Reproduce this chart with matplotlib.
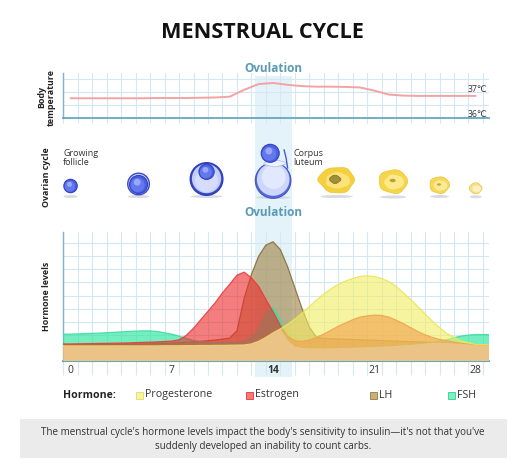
import numpy as np
import matplotlib
matplotlib.use('Agg')
import matplotlib.pyplot as plt
from matplotlib.patches import Rectangle, Ellipse, PathPatch
from matplotlib.path import Path
import matplotlib.transforms as mtrans

plt.rcParams['font.family'] = ['Open Sans', 'DejaVu Sans']

# ---------------- data ----------------
temp_days = list(range(0, 29))
temp_c = [36.76, 36.76, 36.76, 36.76, 36.76, 36.76, 36.77, 36.77, 36.77,
          36.78, 36.79, 36.82, 37.08, 37.30, 37.34, 37.27, 37.22, 37.20,
          37.20, 37.19, 37.17, 37.05, 36.90, 36.86, 36.85, 36.85, 36.85,
          36.85, 36.85]

hormone_days = np.arange(0, 28.5, 0.5)
lh = [1.20, 1.21, 1.22, 1.23, 1.24, 1.25, 1.26, 1.27, 1.28, 1.29, 1.30,
      1.31, 1.33, 1.35, 1.37, 1.40, 1.43, 1.46, 1.50, 1.55, 1.60, 1.67,
      1.75, 2.30, 4.80, 6.60, 8.00, 8.85, 9.10, 8.50, 7.20, 5.60, 4.00,
      2.60, 1.80, 1.72,
      1.70, 1.68, 1.66, 1.64, 1.62, 1.60, 1.58, 1.56, 1.54, 1.52, 1.50,
      1.48, 1.46, 1.44, 1.42, 1.40, 1.37, 1.34, 1.31, 1.28, 1.25]
estrogen = [1.30, 1.31, 1.32, 1.33, 1.34, 1.35, 1.36, 1.37, 1.38, 1.40,
            1.42, 1.44, 1.46, 1.49, 1.52, 1.62, 1.95, 2.50, 3.15, 3.80,
            4.45, 5.20, 5.85, 6.55, 6.78, 6.35, 5.70, 4.70, 3.75, 2.70,
            1.90, 1.55, 1.50, 1.60, 1.80, 2.05, 2.35, 2.65, 2.90, 3.15,
            3.35, 3.45, 3.50, 3.48, 3.35, 3.12, 2.85, 2.55, 2.25, 2.00,
            1.80, 1.65, 1.55, 1.45, 1.35, 1.27, 1.20]
progesterone = [1.15, 1.15, 1.15, 1.15, 1.15, 1.15, 1.15, 1.15, 1.15, 1.15,
                1.15, 1.15, 1.15, 1.16, 1.16, 1.16, 1.17, 1.17, 1.18, 1.18,
                1.19, 1.19, 1.20, 1.21, 1.22, 1.30, 1.50, 1.80, 2.15, 2.45,
                2.80, 3.20, 3.65, 4.15, 4.65, 5.10, 5.50, 5.85, 6.10, 6.30,
                6.45, 6.50, 6.45, 6.30, 6.05, 5.70, 5.20, 4.70, 4.15, 3.60,
                3.05, 2.55, 2.10, 1.80, 1.55, 1.40, 1.25]
fsh = [2.05, 2.07, 2.09, 2.11, 2.13, 2.16, 2.19, 2.22, 2.25, 2.28, 2.30,
       2.30, 2.25, 2.15, 2.05, 1.90, 1.72, 1.57, 1.47, 1.42, 1.40, 1.40,
       1.40, 1.42, 1.50, 1.80, 2.40, 3.70, 4.10, 3.10, 1.60, 1.10, 1.00,
       0.98, 0.97, 0.97, 0.98, 0.99, 1.00, 1.02, 1.04, 1.06, 1.08, 1.10,
       1.13, 1.16, 1.20, 1.24, 1.28, 1.33, 1.40, 1.50, 1.62, 1.78, 1.90,
       1.98, 2.02]

tick_days = [0, 7, 14, 21, 28]
tick_labels = ['0', '7', '14', '21', '28']
ovulation_window = (12.75, 15.3)

follicle_days = [0.0, 4.7, 9.4, 14.0]
luteum_days = [18.4, 22.3, 25.5, 28.0]

legend_names = ['Progesterone', 'Estrogen', 'LH', 'FSH']
legend_face = ['#f8f5a0', '#f57b7b', '#c8b180', '#7ff0c4']
legend_edge = ['#e6e070', '#e84848', '#a08850', '#40d8a0']

caption = ("The menstrual cycle's hormone levels impact the body's sensitivity to insulin\u2014it's not that you've\n"
           "suddenly developed an inability to count carbs.")

# ---------------- figure ----------------
W, H = 528, 470
fig = plt.figure(figsize=(W / 100, H / 100), dpi=100)
fig.patch.set_facecolor('white')

GRID = '#d3e8f3'
SPINE = '#7fb3c9'
TXT = '#333333'
XLIM = (-0.5, 28.92)


def px_axes(left, top, right, bottom):
    return fig.add_axes([left / W, 1 - bottom / H, (right - left) / W, (bottom - top) / H])


def fx(px):
    return px / W


def fy(py):
    return 1 - py / H


ax_t = px_axes(63.3, 72.7, 489, 118.3)
ax_o = px_axes(63.3, 135, 489, 205)
ax_h = px_axes(63.3, 232, 489, 361)
PXD = (489 - 63.3) / (XLIM[1] - XLIM[0])  # pixels per day
kx = 1.0 / PXD

for ax in (ax_t, ax_o, ax_h):
    ax.set_xlim(*XLIM)
    ax.patch.set_alpha(0)

gl = np.arange(-0.5, 29.0, 1.0)

# ---- ovulation band ----
band_tr = mtrans.blended_transform_factory(ax_h.transData, fig.transFigure)
band = Rectangle((ovulation_window[0], fy(377)), ovulation_window[1] - ovulation_window[0],
                 (377 - 76) / H, transform=band_tr, facecolor='#e4f3fa', edgecolor='none', zorder=-5)
fig.add_artist(band)

# ---- temperature panel ----
ax_t.set_ylim(36.0, 37.73)
ax_t.set_xticks(tick_days)
ax_t.set_xticklabels([])
ax_t.set_xticks(gl, minor=True)
ax_t.set_yticks([36.5, 37.0, 37.5])
ax_t.set_yticklabels([])
ax_t.tick_params(axis='both', which='major', length=0)
ax_t.tick_params(axis='x', which='minor', length=3.5, color=GRID, width=0.8)
ax_t.grid(True, which='minor', axis='x', color=GRID, lw=0.8)
ax_t.grid(True, which='major', axis='y', color=GRID, lw=0.8)
for s in ('top', 'right'):
    ax_t.spines[s].set_visible(False)
ax_t.spines['left'].set_color(SPINE)
ax_t.spines['left'].set_linewidth(1.0)
ax_t.spines['bottom'].set_color('#68a6bf')
ax_t.spines['bottom'].set_linewidth(1.3)
ax_t.plot(temp_days, temp_c, color='#f2a3a3', lw=1.4, solid_capstyle='round', zorder=3)
ax_t.text(28.8, 37.11, '37\u2103', ha='right', va='center', fontsize=6.3, color=TXT)
ax_t.text(28.8, 36.13, '36\u2103', ha='right', va='center', fontsize=6.3, color=TXT)

# ---- ovarian cycle panel ----
ax_o.set_ylim(205, 135)
ax_o.axis('off')


def circ(cx, cy, r, **kw):
    return Ellipse((cx, cy), 2 * r * kx, 2 * r, **kw)


def shadow(cx, cy, w):
    ax_o.add_patch(Ellipse((cx, cy), w * kx, 3, facecolor='#c9cbd6', edgecolor='none', alpha=0.7, zorder=1))


def sphere(cx, cy, r, z=3):
    ax_o.add_patch(circ(cx, cy, r, facecolor='#4a5fe0', edgecolor='#3242c0', lw=0.8, zorder=z))
    ax_o.add_patch(circ(cx - 0.1 * r * kx, cy + 0.05 * r, r * 0.78, facecolor='#6478ee', edgecolor='none', zorder=z + 0.1))
    ax_o.add_patch(circ(cx - 0.15 * r * kx, cy - 0.25 * r, r * 0.38, facecolor='#a7b4fa', edgecolor='none', alpha=0.8, zorder=z + 0.2))


def blob(cx, cy, w, h, factors, **kw):
    n = len(factors)
    ang = np.linspace(0, 2 * np.pi, n, endpoint=False)
    pts = [(cx + f * w / 2 * np.cos(a) * kx, cy + f * h / 2 * np.sin(a)) for f, a in zip(factors, ang)]
    mids = [((pts[i][0] + pts[(i + 1) % n][0]) / 2, (pts[i][1] + pts[(i + 1) % n][1]) / 2) for i in range(n)]
    verts = [mids[-1]]
    codes = [Path.MOVETO]
    for i in range(n):
        verts += [pts[i], mids[i]]
        codes += [Path.CURVE3, Path.CURVE3]
    verts.append(mids[-1])
    codes.append(Path.CLOSEPOLY)
    return PathPatch(Path(verts, codes), **kw)


# follicle 1
d = follicle_days[0]
shadow(d, 196.5, 14)
sphere(d, 186, 6.7)
# follicle 2
d = follicle_days[1]
shadow(d, 196.5, 22)
ax_o.add_patch(circ(d, 184, 10.8, facecolor='#c9d1fa', edgecolor='#3a4acb', lw=1.0, zorder=2))
sphere(d, 184.5, 9.0)
# follicle 3
d = follicle_days[2]
shadow(d, 196.5, 32)
ax_o.add_patch(circ(d, 179, 16.3, facecolor='#3a4bc8', edgecolor='#2e3db5', lw=1.0, zorder=2))
ax_o.add_patch(circ(d, 178.6, 14.6, facecolor='#c3cdf9', edgecolor='none', zorder=2.1))
ax_o.add_patch(circ(d, 180.5, 11.5, facecolor='#d6ddfc', edgecolor='none', zorder=2.2))
sphere(d, 171.8, 7.6)
# follicle 4 (ovulation)
d = follicle_days[3]
shadow(d, 197.5, 34)
ax_o.add_patch(circ(d, 180.5, 17.8, facecolor='#5566d8', edgecolor='#4455cc', lw=0.8, zorder=2))
ax_o.add_patch(circ(d + 0.1 * kx, 179.5, 16.3, facecolor='#cdd6fb', edgecolor='none', zorder=2.1))
ax_o.add_patch(circ(d + 0.6 * kx, 177.0, 12.0, facecolor='#e2e8fd', edgecolor='none', zorder=2.2))
ax_o.add_patch(blob(d + 2 * kx, 163.5, 26, 7, [1.0, 0.7, 1.1, 0.8, 1.0, 0.75, 1.05, 0.85],
                    facecolor='#eef2ff', edgecolor='#b8c4f0', lw=0.6, zorder=2.5))
ax_o.plot([d + 11 * kx, d + 13 * kx, d + 14.5 * kx], [150, 158, 168], color='#4a5ad0', lw=1.0, zorder=2.6)
sphere(d - 0.2, 153.3, 9.0, z=3)

# corpus luteum blobs
lut_w = [38, 31, 22, 14]
lut_h = [28, 26, 18, 12]
lut_y = [180, 181.5, 185, 188.3]
lut_facs = [[1.0, 0.86, 1.06, 0.92, 1.0, 0.84, 1.08, 0.93, 0.98, 0.87, 1.05, 0.9],
            [1.0, 0.9, 1.05, 0.86, 1.02, 0.9, 1.06, 0.88, 1.0, 0.92],
            [1.0, 0.88, 1.06, 0.9, 1.02, 0.86, 1.05, 0.9, 1.0, 0.92],
            [1.0, 0.9, 1.05, 0.88, 1.02, 0.9, 1.05, 0.9]]
lut_face = ['#f4cf3e', '#f6d54a', '#f6d858', '#f6e08c']
lut_inner = ['#fbe27a', '#fde98a', '#fde995', '#fcf0c0']
for i, d in enumerate(luteum_days):
    shadow(d, lut_y[i] + lut_h[i] / 2 + 2.5, lut_w[i] * 0.85)
    ax_o.add_patch(blob(d, lut_y[i], lut_w[i], lut_h[i], lut_facs[i],
                        facecolor=lut_face[i], edgecolor='#ebc530', lw=0.5, zorder=2))
    ax_o.add_patch(blob(d + 1.0 * kx, lut_y[i] + 0.5, lut_w[i] * 0.7, lut_h[i] * 0.62, lut_facs[i][::-1],
                        facecolor=lut_inner[i], edgecolor='none', zorder=2.1))
ax_o.add_patch(blob(luteum_days[0] - 1.5 * kx, 179.3, 13, 9, [1.0, 0.8, 1.1, 0.85, 1.0, 0.9, 1.05, 0.8],
                    facecolor='#9e9035', edgecolor='#7d7028', lw=0.5, zorder=2.3))
ax_o.add_patch(Ellipse((luteum_days[1] - 0.5 * kx, 180.5), 6 * kx, 3.5, facecolor='#b8a23a', edgecolor='none', zorder=2.3))
ax_o.add_patch(Ellipse((luteum_days[2] - 0.5 * kx, 184.5), 4 * kx, 2.5, facecolor='#c0a840', edgecolor='none', zorder=2.3))

# ---- hormone panel ----
ax_h.set_ylim(0, (361 - 232) / 13.1)
ax_h.set_xticks(tick_days)
ax_h.set_xticklabels(tick_labels, fontsize=7.5, color=TXT)
ax_h.get_xticklabels()[2].set_fontweight('bold')
ax_h.set_xticks(gl, minor=True)
ax_h.set_yticks(range(1, 10))
ax_h.set_yticklabels([])
ax_h.tick_params(axis='x', which='major', length=0, pad=3.0)
ax_h.tick_params(axis='y', which='major', length=0)
ax_h.tick_params(axis='x', which='minor', length=10, color=GRID, width=0.8)
ax_h.grid(True, which='minor', axis='x', color=GRID, lw=0.8, zorder=0)
ax_h.grid(True, which='major', axis='y', color=GRID, lw=0.8, zorder=0)
ax_h.set_axisbelow(True)
for s in ('top', 'right'):
    ax_h.spines[s].set_visible(False)
ax_h.spines['left'].set_color(SPINE)
ax_h.spines['left'].set_linewidth(1.0)
ax_h.spines['bottom'].set_color('#68a6bf')
ax_h.spines['bottom'].set_linewidth(1.5)

xx = np.r_[XLIM[0], hormone_days, XLIM[1]]


def ext(v):
    v = list(v)
    return np.r_[v[0], v, v[-1]]


series = [
    (lh, '#9d7f3f', '#8a6f3a', 0.6),
    (fsh, '#2ae69d', '#3fdca0', 0.65),
    (estrogen, '#ee2828', '#e83c3c', 0.6),
    (progesterone, '#f3ee61', '#ebe655', 0.6),
]
for z, (vals, face, edge, a) in enumerate(series):
    yv = ext(vals)
    ax_h.fill_between(xx, 0, yv, facecolor=face, alpha=a, edgecolor='none', zorder=2 + z)
    ax_h.plot(xx, yv, color=edge, lw=0.9, alpha=0.9, zorder=2 + z + 0.5)

base = np.minimum.reduce([ext(lh), ext(fsh), ext(estrogen), ext(progesterone)])
ax_h.fill_between(xx, 0, base, facecolor='#eec48b', alpha=0.92, edgecolor='none', zorder=7)

# ---- texts ----
fig.text(fx(262), fy(32), 'MENSTRUAL CYCLE', ha='center', va='center', fontsize=15.6,
         fontweight='bold', color='#111111')
fig.text(fx(273), fy(69), 'Ovulation', ha='center', va='center', fontsize=8.5,
         fontweight='bold', color='#5b9ab4')
fig.text(fx(273), fy(213), 'Ovulation', ha='center', va='center', fontsize=8.5,
         fontweight='bold', color='#5b9ab4')
fig.text(fx(46.5), fy(97), 'Body\ntemperature', ha='center', va='center', rotation=90,
         fontsize=6.4, fontweight='bold', color='#222222', linespacing=1.05)
fig.text(fx(46.5), fy(177), 'Ovarian cycle', ha='center', va='center', rotation=90,
         fontsize=6.4, fontweight='bold', color='#222222')
fig.text(fx(46.5), fy(296), 'Hormone levels', ha='center', va='center', rotation=90,
         fontsize=6.4, fontweight='bold', color='#222222')
fig.text(fx(63), fy(158), 'Growing\nfollicle', ha='left', va='center', fontsize=6.5,
         color=TXT, linespacing=1.0)
fig.text(fx(293), fy(158), 'Corpus\nluteum', ha='left', va='center', fontsize=6.5,
         color=TXT, linespacing=1.0)

# legend
fig.text(fx(63), fy(395), 'Hormone:', ha='left', va='center', fontsize=7.6,
         fontweight='bold', color='#222222')
sq_x = [139, 249, 373, 451]
for name, fc, ec, sx in zip(legend_names, legend_face, legend_edge, sq_x):
    fig.add_artist(Rectangle((fx(sx - 3.5), fy(398.5)), 7 / W, 7 / H, transform=fig.transFigure,
                             facecolor=fc, edgecolor=ec, lw=0.7))
    fig.text(fx(sx + 6.5), fy(395), name, ha='left', va='center', fontsize=7.7, color=TXT)

# caption
fig.add_artist(Rectangle((fx(20), fy(458)), 487 / W, 39 / H, transform=fig.transFigure,
                         facecolor='#ebebeb', edgecolor='none', zorder=-6))
fig.text(fx(263), fy(439.5), caption, ha='center', va='center', fontsize=7.1,
         color=TXT, linespacing=1.45)

fig.savefig('out.png', dpi=100, facecolor='white')
